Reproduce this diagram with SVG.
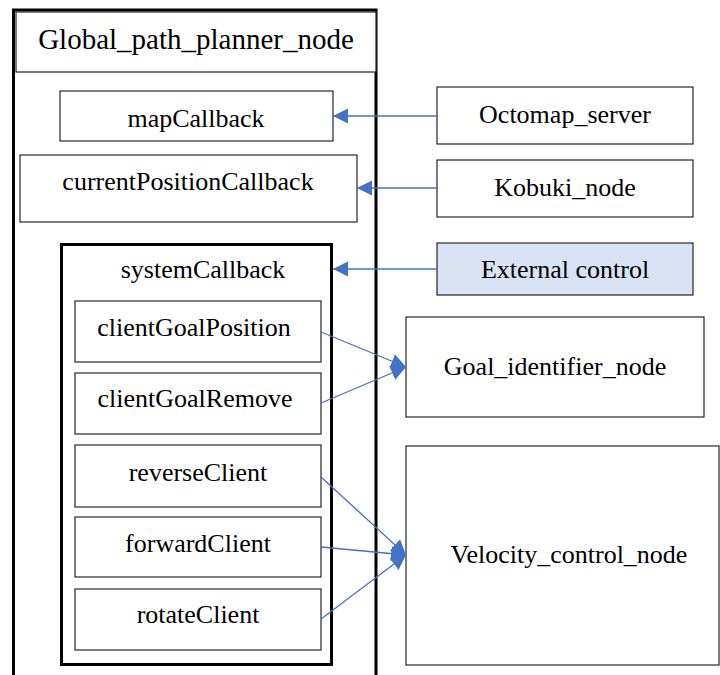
<svg xmlns="http://www.w3.org/2000/svg" width="720" height="675" viewBox="0 0 720 675">
  <style>
    .box { fill: #ffffff; stroke: #262626; stroke-width: 1.2; }
    .ext { fill: #DAE3F3; stroke: #262626; stroke-width: 1.2; }
    .frame { fill: none; stroke: #000000; stroke-width: 3; }
    text { font-family: 'Liberation Serif', 'DejaVu Serif', 'Times New Roman', serif; font-size: 26px; fill: #000000; text-anchor: middle; }
    .title { font-size: 29px; }
    .link { fill: none; stroke: #4472C4; stroke-width: 1.3; marker-end: url(#tri); }
  </style>
  <defs>
    <marker id="tri" viewBox="0 0 10 10" refX="10" refY="5" markerUnits="userSpaceOnUse" markerWidth="15" markerHeight="16" orient="auto">
      <path d="M0 0 L10 5 L0 10 Z" fill="#4472C4"/>
    </marker>
  </defs>
  <rect width="720" height="675" fill="#ffffff"/>

  <!-- planner node frame, open at the bottom -->
  <g id="global_path_planner_node">
    <path class="frame" d="M13.5 680 V10 H376 V680"/>
    <rect class="box" x="16" y="12" width="360" height="60"/>
    <text class="title" x="196" y="49" font-family="Liberation Serif, serif">Global_path_planner_node</text>
  </g>

  <g id="mapCallback">
    <rect class="box" x="60" y="91" width="273" height="50"/>
    <text x="196" y="127">mapCallback</text>
  </g>

  <g id="currentPositionCallback">
    <rect class="box" x="20" y="155" width="337" height="67"/>
    <text x="188" y="190">currentPositionCallback</text>
  </g>

  <g id="systemCallback">
    <rect x="61.5" y="244.5" width="270" height="420" fill="none" stroke="#000000" stroke-width="3"/>
    <text x="203" y="278">systemCallback</text>
  </g>

  <g id="clientGoalPosition">
    <rect class="box" x="75" y="301" width="246" height="61"/>
    <text x="194" y="336">clientGoalPosition</text>
  </g>
  <g id="clientGoalRemove">
    <rect class="box" x="75" y="373" width="246" height="61"/>
    <text x="195" y="407">clientGoalRemove</text>
  </g>
  <g id="reverseClient">
    <rect class="box" x="75" y="445" width="246" height="62"/>
    <text x="198" y="481">reverseClient</text>
  </g>
  <g id="forwardClient">
    <rect class="box" x="75" y="517" width="246" height="60"/>
    <text x="198" y="552">forwardClient</text>
  </g>
  <g id="rotateClient">
    <rect class="box" x="75" y="589" width="246" height="61"/>
    <text x="198" y="623">rotateClient</text>
  </g>

  <g id="octomap_server">
    <rect class="box" x="437" y="87" width="256" height="57"/>
    <text x="565" y="123">Octomap_server</text>
  </g>
  <g id="kobuki_node">
    <rect class="box" x="437" y="160" width="256" height="57"/>
    <text x="565" y="196">Kobuki_node</text>
  </g>
  <g id="external_control">
    <rect class="ext" x="437" y="243" width="256" height="52"/>
    <text x="565" y="278">External control</text>
  </g>
  <g id="goal_identifier_node">
    <rect class="box" x="406" y="317" width="298" height="100"/>
    <text x="555" y="375">Goal_identifier_node</text>
  </g>
  <g id="velocity_control_node">
    <rect class="box" x="406" y="446" width="313" height="219"/>
    <text x="569" y="563">Velocity_control_node</text>
  </g>

  <!-- topic and action links -->
  <g id="connectors">
    <line class="link" x1="437" y1="116" x2="333" y2="116"/>
    <line class="link" x1="437" y1="188" x2="357" y2="188"/>
    <line class="link" x1="437" y1="269" x2="333" y2="269"/>
    <line class="link" x1="321" y1="332" x2="406" y2="367"/>
    <line class="link" x1="321" y1="403" x2="406" y2="367"/>
    <line class="link" x1="321" y1="477" x2="406" y2="555"/>
    <line class="link" x1="321" y1="547" x2="406" y2="555"/>
    <line class="link" x1="321" y1="619" x2="406" y2="555"/>
  </g>
</svg>
